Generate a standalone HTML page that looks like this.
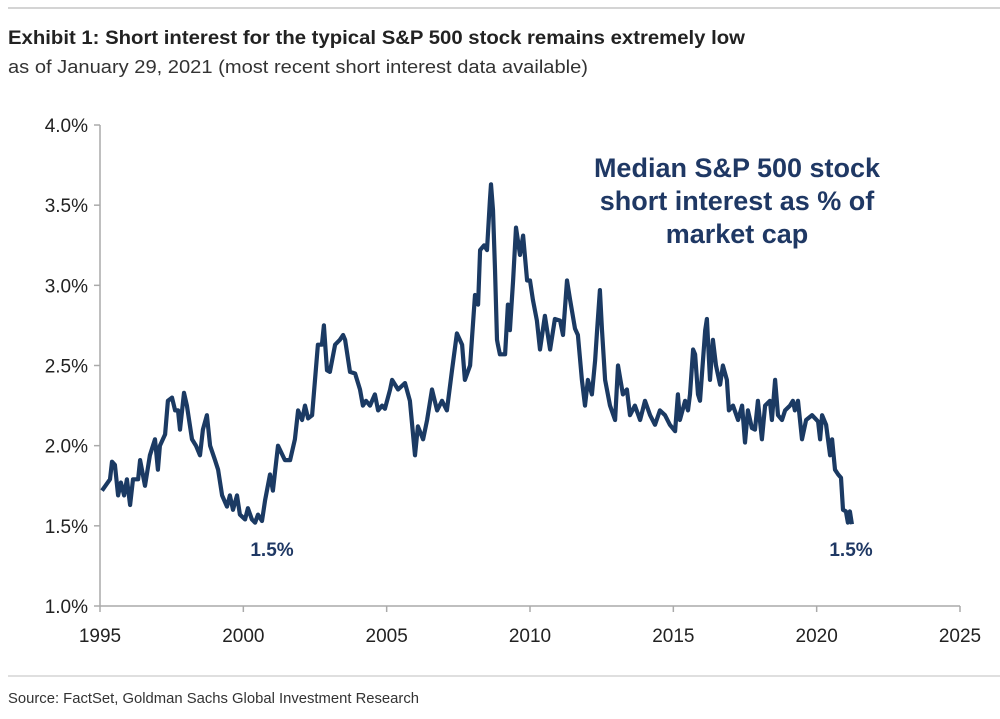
<!DOCTYPE html>
<html><head><meta charset="utf-8"><style>
body{margin:0;background:#fff;}
svg{display:block;font-family:"Liberation Sans",Arial,sans-serif;}
</style></head><body>
<svg id="chart" width="1000" height="719">
<line x1="8" y1="8" x2="1000" y2="8" stroke="#bbb" stroke-width="1.2"/>
<text x="8" y="44" font-size="19" font-weight="bold" fill="#222" textLength="737" lengthAdjust="spacingAndGlyphs">Exhibit 1: Short interest for the typical S&amp;P 500 stock remains extremely low</text>
<text x="8" y="73" font-size="18" fill="#333" textLength="580" lengthAdjust="spacingAndGlyphs">as of January 29, 2021 (most recent short interest data available)</text>
<g id="axes"></g>
<path id="series" fill="none" stroke="#1b3a63" stroke-width="4.2" stroke-linejoin="round"/>
<g fill="#1f3864" font-weight="bold" font-size="27" text-anchor="middle">
<text x="737" y="177">Median S&amp;P 500 stock</text>
<text x="737" y="210">short interest as % of</text>
<text x="737" y="243">market cap</text>
</g>
<text x="272" y="556" font-size="19" font-weight="bold" fill="#1f3864" text-anchor="middle">1.5%</text>
<text x="851" y="556" font-size="19" font-weight="bold" fill="#1f3864" text-anchor="middle">1.5%</text>
<line x1="8" y1="676" x2="1000" y2="676" stroke="#ccc" stroke-width="1.2"/>
<text x="8" y="703" font-size="15" fill="#333" textLength="411" lengthAdjust="spacingAndGlyphs">Source: FactSet, Goldman Sachs Global Investment Research</text>
</svg>
<script>
const years=[1995.07,1995.35,1995.42,1995.52,1995.63,1995.73,1995.84,1995.94,1996.05,1996.15,1996.33,1996.40,1996.57,1996.74,1996.92,1997.02,1997.09,1997.27,1997.37,1997.51,1997.62,1997.72,1997.79,1997.93,1998.03,1998.21,1998.35,1998.49,1998.59,1998.73,1998.84,1999.01,1999.12,1999.26,1999.43,1999.53,1999.64,1999.78,1999.88,2000.06,2000.16,2000.30,2000.41,2000.51,2000.65,2000.76,2000.93,2001.03,2001.21,2001.45,2001.63,2001.80,2001.91,2002.05,2002.15,2002.26,2002.40,2002.60,2002.74,2002.81,2002.92,2003.02,2003.20,2003.37,2003.48,2003.55,2003.72,2003.90,2004.07,2004.17,2004.28,2004.42,2004.59,2004.70,2004.84,2004.94,2005.12,2005.19,2005.40,2005.64,2005.81,2005.99,2006.09,2006.27,2006.41,2006.58,2006.76,2006.93,2007.10,2007.28,2007.45,2007.63,2007.73,2007.91,2007.98,2008.08,2008.19,2008.26,2008.40,2008.50,2008.60,2008.64,2008.71,2008.78,2008.85,2008.88,2008.95,2009.13,2009.23,2009.30,2009.41,2009.51,2009.65,2009.76,2009.90,2010.00,2010.10,2010.24,2010.35,2010.52,2010.70,2010.87,2011.05,2011.15,2011.29,2011.40,2011.57,2011.67,2011.81,2011.92,2012.02,2012.16,2012.27,2012.34,2012.44,2012.51,2012.62,2012.79,2012.97,2013.07,2013.24,2013.38,2013.49,2013.66,2013.84,2014.01,2014.19,2014.36,2014.53,2014.71,2014.88,2015.06,2015.16,2015.23,2015.41,2015.51,2015.58,2015.69,2015.76,2015.86,2015.93,2016.11,2016.17,2016.28,2016.38,2016.49,2016.63,2016.73,2016.87,2016.94,2017.08,2017.26,2017.40,2017.50,2017.60,2017.74,2017.85,2017.95,2018.09,2018.20,2018.37,2018.44,2018.55,2018.65,2018.79,2018.90,2019.07,2019.17,2019.24,2019.35,2019.49,2019.63,2019.84,2020.05,2020.12,2020.19,2020.33,2020.47,2020.54,2020.64,2020.75,2020.85,2020.92,2021.02,2021.09,2021.16,2021.23];
const values=[1.72,1.79,1.90,1.88,1.69,1.77,1.69,1.79,1.63,1.79,1.79,1.91,1.75,1.94,2.04,1.85,2.00,2.07,2.28,2.30,2.22,2.22,2.10,2.33,2.25,2.04,2.00,1.94,2.10,2.19,2.00,1.91,1.85,1.69,1.62,1.69,1.60,1.69,1.57,1.54,1.61,1.54,1.52,1.57,1.53,1.66,1.82,1.72,2.00,1.91,1.91,2.04,2.22,2.16,2.25,2.17,2.19,2.63,2.63,2.75,2.47,2.46,2.63,2.66,2.69,2.66,2.46,2.45,2.35,2.25,2.28,2.25,2.32,2.22,2.25,2.23,2.35,2.41,2.35,2.39,2.28,1.94,2.12,2.04,2.16,2.35,2.22,2.28,2.22,2.47,2.70,2.63,2.41,2.50,2.68,2.94,2.88,3.22,3.25,3.22,3.53,3.63,3.47,3.10,2.66,2.63,2.57,2.57,2.88,2.72,3.03,3.36,3.19,3.31,3.03,3.03,2.91,2.78,2.60,2.81,2.60,2.79,2.78,2.69,3.03,2.91,2.73,2.69,2.41,2.25,2.41,2.32,2.53,2.72,2.97,2.72,2.41,2.25,2.16,2.50,2.32,2.35,2.19,2.25,2.16,2.28,2.19,2.13,2.22,2.19,2.13,2.09,2.32,2.16,2.28,2.22,2.32,2.60,2.57,2.32,2.28,2.72,2.79,2.41,2.66,2.50,2.38,2.50,2.41,2.22,2.25,2.16,2.25,2.02,2.22,2.11,2.10,2.28,2.04,2.25,2.28,2.16,2.41,2.19,2.16,2.22,2.25,2.28,2.22,2.28,2.04,2.16,2.19,2.15,2.04,2.19,2.13,1.94,2.04,1.85,1.82,1.80,1.60,1.59,1.52,1.59,1.51];
const yTicks=[1.0,1.5,2.0,2.5,3.0,3.5,4.0];
const xTicks=[1995,2000,2005,2010,2015,2020,2025];
const X0=100,X1=960,Y0=606,Y1=125;
const xs=v=>X0+(v-1995)/30*(X1-X0);
const ys=v=>Y0-(v-1)/3*(Y0-Y1);
const NS="http://www.w3.org/2000/svg";
const axes=document.getElementById('axes');
function mk(tag,attrs){const e=document.createElementNS(NS,tag);for(const k in attrs)e.setAttribute(k,attrs[k]);return e;}
const ya=mk('line',{x1:X0,y1:Y1,x2:X0,y2:Y0,stroke:'#aaa','stroke-width':1.5});


axes.appendChild(ya);
const xa=mk('line',{x1:X0,y1:Y0,x2:X1,y2:Y0,stroke:'#aaa','stroke-width':1.5});


axes.appendChild(xa);
yTicks.forEach(t=>{
  const tk=mk('line',{x1:X0-6,y1:ys(t),x2:X0,y2:ys(t),stroke:'#aaa','stroke-width':1.5});
  
  
  axes.appendChild(tk);
  const lb=mk('text',{x:X0-12,y:ys(t)+7,'font-size':19,fill:'#222','text-anchor':'end'});
  lb.textContent=t.toFixed(1)+'%';
  
  
  axes.appendChild(lb);
});
xTicks.forEach(t=>{
  const tk=mk('line',{x1:xs(t),y1:Y0,x2:xs(t),y2:Y0+6,stroke:'#aaa','stroke-width':1.5});
  
  
  axes.appendChild(tk);
  const lb=mk('text',{x:xs(t),y:Y0+36,'font-size':19,fill:'#222','text-anchor':'middle'});
  lb.textContent=t;
  
  
  axes.appendChild(lb);
});
document.getElementById('series').setAttribute('d',years.map((y,i)=>(i?'L':'M')+xs(y).toFixed(1)+','+ys(values[i]).toFixed(1)).join(''));
</script>
</body></html>
